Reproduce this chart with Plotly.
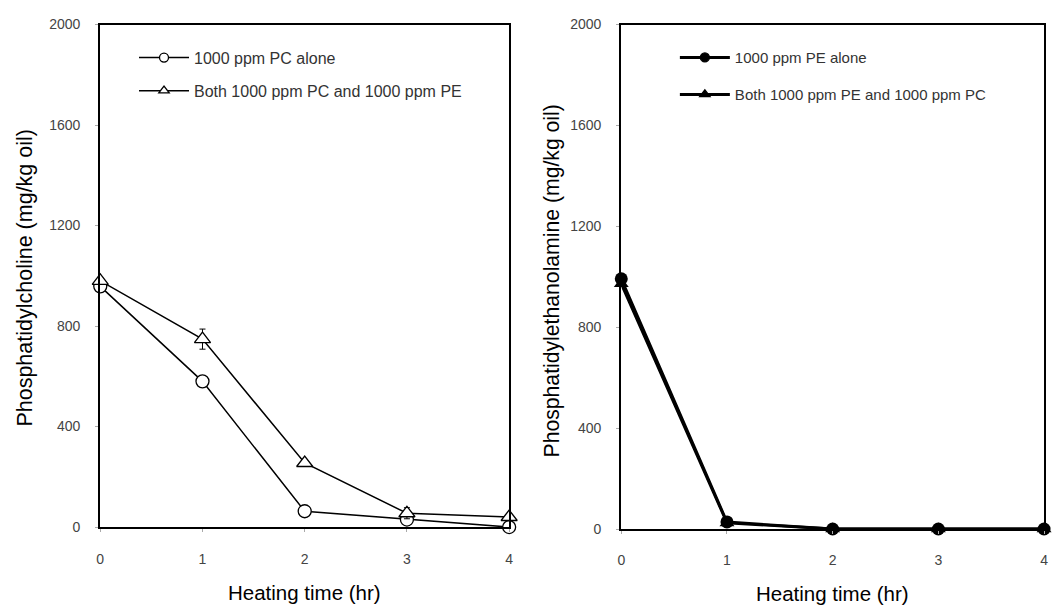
import plotly.graph_objects as go

hours = [0, 1, 2, 3, 4]
tick_vals_y = [0, 400, 800, 1200, 1600, 2000]

pc_alone = [958, 580, 63, 30, 0]
pc_both = [980, 748, 255, 55, 40]
pc_both_err = [10, 40, 12, 22, 8]

pe_alone = [992, 28, 0, 0, 0]
pe_both = [972, 24, 0, 0, 0]

names_left = ["1000 ppm PC alone", "Both 1000 ppm PC and 1000 ppm PE"]
names_right = ["1000 ppm PE alone", "Both 1000 ppm PE and 1000 ppm PC"]

W, H = 1055, 612
L1, R1 = 97 / W, 509 / W
L2, R2 = 622 / W, 1048 / W
T1, B1 = 1 - 17 / H, 1 - 533 / H
T2, B2 = 1 - 17 / H, 1 - 535 / H

font_family = "Liberation Sans, Arial, sans-serif"
fig = go.Figure()

# data traces
fig.add_trace(go.Scatter(
    x=hours, y=pc_alone, mode="lines+markers", showlegend=False,
    line=dict(color="black", width=1.5),
    marker=dict(symbol="circle", size=13, color="white", line=dict(width=1.3, color="black")),
    xaxis="x", yaxis="y", cliponaxis=False,
))
fig.add_trace(go.Scatter(
    x=hours, y=pc_both, mode="lines+markers", showlegend=False,
    line=dict(color="black", width=1.5),
    marker=dict(symbol="triangle-up", size=14, color="white", line=dict(width=1.3, color="black")),
    error_y=dict(type="data", array=pc_both_err, color="black", thickness=1, width=3),
    xaxis="x", yaxis="y", cliponaxis=False,
))
fig.add_trace(go.Scatter(
    x=hours, y=pe_both, mode="lines+markers", showlegend=False,
    line=dict(color="black", width=2.8),
    marker=dict(symbol="triangle-up", size=13, color="black"),
    xaxis="x2", yaxis="y2", cliponaxis=False,
))
fig.add_trace(go.Scatter(
    x=hours, y=pe_alone, mode="lines+markers", showlegend=False,
    line=dict(color="black", width=2.8),
    marker=dict(symbol="circle", size=13, color="black"),
    xaxis="x2", yaxis="y2", cliponaxis=False,
))

# legend entries (one legend per entry for exact spacing)
legend_specs = [
    (names_left[0], "circle", "white", 1.5, "legend", 131, 51, 16),
    (names_left[1], "triangle-up", "white", 1.5, "legend2", 131, 85, 16),
    (names_right[0], "circle", "black", 3, "legend3", 676, 51, 15),
    (names_right[1], "triangle-up", "black", 3, "legend4", 676, 89, 15),
]
for name, sym, fill, lw, leg, _, _, _ in legend_specs:
    fig.add_trace(go.Scatter(
        x=[None], y=[None], mode="lines+markers", name=name,
        line=dict(color="black", width=lw),
        marker=dict(symbol=sym, size=9, color=fill, line=dict(width=1.3, color="black")),
        xaxis="x", yaxis="y", legend=leg, showlegend=True,
    ))

axis_common = dict(
    showline=True, linecolor="black", linewidth=2.2, mirror=True,
    showgrid=False, zeroline=False,
    tickfont=dict(family=font_family, size=14, color="#444444"),
    ticks="outside", ticklen=3, tickcolor="#aaaaaa",
)

layout = dict(
    width=W, height=H,
    margin=dict(l=0, r=0, t=0, b=0),
    paper_bgcolor="white", plot_bgcolor="white",
    showlegend=True,
    xaxis=dict(domain=[L1, R1], range=[0, 4], tickvals=hours, anchor="y",
               ticklabelstandoff=15, **axis_common),
    yaxis=dict(domain=[B1, T1], range=[0, 2000], tickvals=tick_vals_y, anchor="x",
               ticklabelstandoff=12, **axis_common),
    xaxis2=dict(domain=[L2, R2], range=[0, 4], tickvals=hours, anchor="y2",
                ticklabelstandoff=14, **axis_common),
    yaxis2=dict(domain=[B2, T2], range=[0, 2000], tickvals=tick_vals_y, anchor="x2",
                ticklabelstandoff=12, **axis_common),
)
for name, sym, fill, lw, leg, lx, ly, fs in legend_specs:
    layout[leg] = dict(x=lx / W, y=1 - ly / H, xanchor="left", yanchor="middle",
                       font=dict(family=font_family, size=fs, color="#333333"),
                       bgcolor="rgba(0,0,0,0)", itemwidth=50)
fig.update_layout(**layout)

# axis titles as paper-positioned annotations
title_specs = [
    ("Heating time (hr)", 303, 600, 0, 20.5),
    ("Heating time (hr)", 835, 601, 0, 20.5),
    ("Phosphatidylcholine (mg/kg oil)", 21, 277, -90, 21.5),
    ("Phosphatidylethanolamine (mg/kg oil)", 552, 280, -90, 21.2),
]
for text, px, py, ang, fs in title_specs:
    fig.add_annotation(text=text, x=px / W, y=1 - py / H, xref="paper", yref="paper",
                       xanchor="center", yanchor="middle", textangle=ang, showarrow=False,
                       font=dict(family=font_family, size=fs, color="black"))

fig.write_html("out.html")
